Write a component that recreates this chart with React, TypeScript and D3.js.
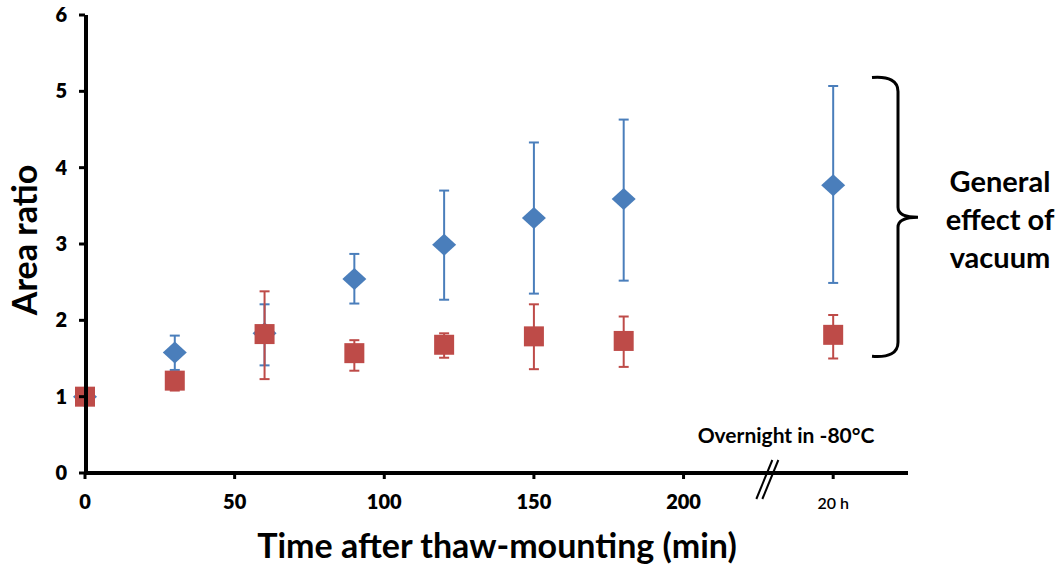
import React, { useEffect, useRef } from "react";
import * as d3 from "d3";

// time points (min); the last one is the "20 h" overnight sample placed after the axis break
const timePoints = [0, 30, 60, 90, 120, 150, 180, 250];

// vacuum (blue diamonds)
const blueMean = [1.0, 1.58, 1.83, 2.54, 2.99, 3.34, 3.59, 3.77];
const blueLow = [1.0, 1.35, 1.41, 2.22, 2.27, 2.35, 2.52, 2.49];
const blueHigh = [1.0, 1.8, 2.21, 2.87, 3.7, 4.33, 4.63, 5.07];

// control (red squares)
const redMean = [1.0, 1.21, 1.82, 1.57, 1.68, 1.79, 1.73, 1.81];
const redLow = [1.0, 1.08, 1.23, 1.34, 1.51, 1.36, 1.39, 1.5];
const redHigh = [1.0, 1.3, 2.38, 1.74, 1.83, 2.21, 2.05, 2.07];

const xTicks = [0, 50, 100, 150, 200, 250];
const xTickLabels = ["0", "50", "100", "150", "200", "20 h"];
const yTicks = [0, 1, 2, 3, 4, 5, 6];
const noteLines = ["General", "effect of", "vacuum"];

const FONT = "Lato, 'Open Sans', sans-serif";

function App() {
  const ref = useRef<SVGSVGElement>(null);

  useEffect(() => {
    const svg = d3.select(ref.current);
    svg.selectAll("*").remove();

    const x = d3.scaleLinear().domain([0, 275]).range([85, 908]);
    const y = d3.scaleLinear().domain([0, 6]).range([473, 15]);

    const blue = "#4a7ebb";
    const red = "#be4b48";

    const series = [
      { color: blue, mean: blueMean, low: blueLow, high: blueHigh, shape: "diamond" },
      { color: red, mean: redMean, low: redLow, high: redHigh, shape: "square" },
    ];

    // error bars + markers
    series.forEach(s => {
      const g = svg.append("g");
      const rows = timePoints.map((t, i) => ({ t, m: s.mean[i], lo: s.low[i], hi: s.high[i] }));
      const eb = g.selectAll(".eb").data(rows.filter(d => d.hi > d.lo)).join("g");
      eb.append("line")
        .attr("x1", d => x(d.t)).attr("x2", d => x(d.t))
        .attr("y1", d => y(d.lo)).attr("y2", d => y(d.hi))
        .attr("stroke", s.color).attr("stroke-width", 2);
      [(d: any) => d.lo, (d: any) => d.hi].forEach(acc => {
        eb.append("line")
          .attr("x1", d => x(d.t) - 5).attr("x2", d => x(d.t) + 5)
          .attr("y1", d => y(acc(d))).attr("y2", d => y(acc(d)))
          .attr("stroke", s.color).attr("stroke-width", 2);
      });
      if (s.shape === "diamond") {
        g.selectAll(".mk").data(rows).join("path")
          .attr("d", d => `M${x(d.t)},${y(d.m) - 11}L${x(d.t) + 12},${y(d.m)}L${x(d.t)},${y(d.m) + 11}L${x(d.t) - 12},${y(d.m)}Z`)
          .attr("fill", s.color);
      } else {
        g.selectAll(".mk").data(rows).join("rect")
          .attr("x", d => x(d.t) - 10).attr("y", d => y(d.m) - 10)
          .attr("width", 20).attr("height", 20)
          .attr("fill", s.color);
      }
    });

    // axes
    const axis = svg.append("g");
    axis.append("line")
      .attr("x1", x(0)).attr("x2", x(275)).attr("y1", y(0)).attr("y2", y(0))
      .attr("stroke", "#000").attr("stroke-width", 4);
    axis.append("line")
      .attr("x1", x(0) + 1).attr("x2", x(0) + 1).attr("y1", y(6)).attr("y2", y(0) + 2)
      .attr("stroke", "#000").attr("stroke-width", 4);

    axis.selectAll(".xt").data(xTicks).join("line")
      .attr("x1", d => x(d)).attr("x2", d => x(d))
      .attr("y1", y(0)).attr("y2", y(0) + 6)
      .attr("stroke", "#000").attr("stroke-width", 3);
    axis.selectAll(".xl").data(xTicks).join("text")
      .attr("x", d => x(d)).attr("y", 509)
      .attr("text-anchor", "middle")
      .attr("font-family", FONT)
      .attr("font-weight", (d, i) => (i === xTicks.length - 1 ? 600 : 800))
      .attr("font-size", (d, i) => (i === xTicks.length - 1 ? 16 : 20))
      .text((d, i) => xTickLabels[i]);

    axis.selectAll(".yt").data(yTicks).join("line")
      .attr("x1", x(0) - 6).attr("x2", x(0))
      .attr("y1", d => y(d)).attr("y2", d => y(d))
      .attr("stroke", "#000").attr("stroke-width", 3);
    axis.selectAll(".yl").data(yTicks).join("text")
      .attr("x", 67).attr("y", d => y(d) + 7)
      .attr("text-anchor", "end")
      .attr("font-family", FONT).attr("font-weight", 800).attr("font-size", 20)
      .text(d => d);

    // axis break marks
    const bx = x(228);
    [-3, 3].forEach(off => {
      axis.append("line")
        .attr("x1", bx + off + 8).attr("y1", y(0) - 13)
        .attr("x2", bx + off - 8).attr("y2", y(0) + 26)
        .attr("stroke", "#000").attr("stroke-width", 2);
    });

    // titles
    svg.append("text")
      .attr("x", 497).attr("y", 558)
      .attr("text-anchor", "middle")
      .attr("font-family", FONT).attr("font-weight", 700).attr("font-size", 34)
      .text("Time after thaw-mounting (min)");
    svg.append("text")
      .attr("transform", `translate(37, 240) rotate(-90)`)
      .attr("text-anchor", "middle")
      .attr("font-family", FONT).attr("font-weight", 700).attr("font-size", 34)
      .text("Area ratio");

    svg.append("text")
      .attr("x", 786).attr("y", 443)
      .attr("text-anchor", "middle")
      .attr("font-family", FONT).attr("font-weight", 700).attr("font-size", 21)
      .text("Overnight in -80°C");

    // bracket annotation
    const top = y(5.18), bot = y(1.53), mid = y(3.35);
    const bxr = 898;
    svg.append("path")
      .attr("d", `M${bxr - 26},${top} Q${bxr},${top - 2} ${bxr},${top + 14} L${bxr},${mid - 10} Q${bxr},${mid} ${bxr + 20},${mid} Q${bxr},${mid} ${bxr},${mid + 10} L${bxr},${bot - 14} Q${bxr},${bot + 2} ${bxr - 26},${bot}`)
      .attr("fill", "none").attr("stroke", "#000").attr("stroke-width", 3);

    svg.selectAll(".note").data(noteLines).join("text")
      .attr("x", 1000).attr("y", (d, i) => 192 + i * 38)
      .attr("text-anchor", "middle")
      .attr("font-family", FONT).attr("font-weight", 700).attr("font-size", 29)
      .text(d => d);
  }, []);

  return (
    <svg ref={ref} width={1062} height={568}
      style={{ position: "absolute", left: 0, top: 0, background: "#fff" }} />
  );
}

export default App;
